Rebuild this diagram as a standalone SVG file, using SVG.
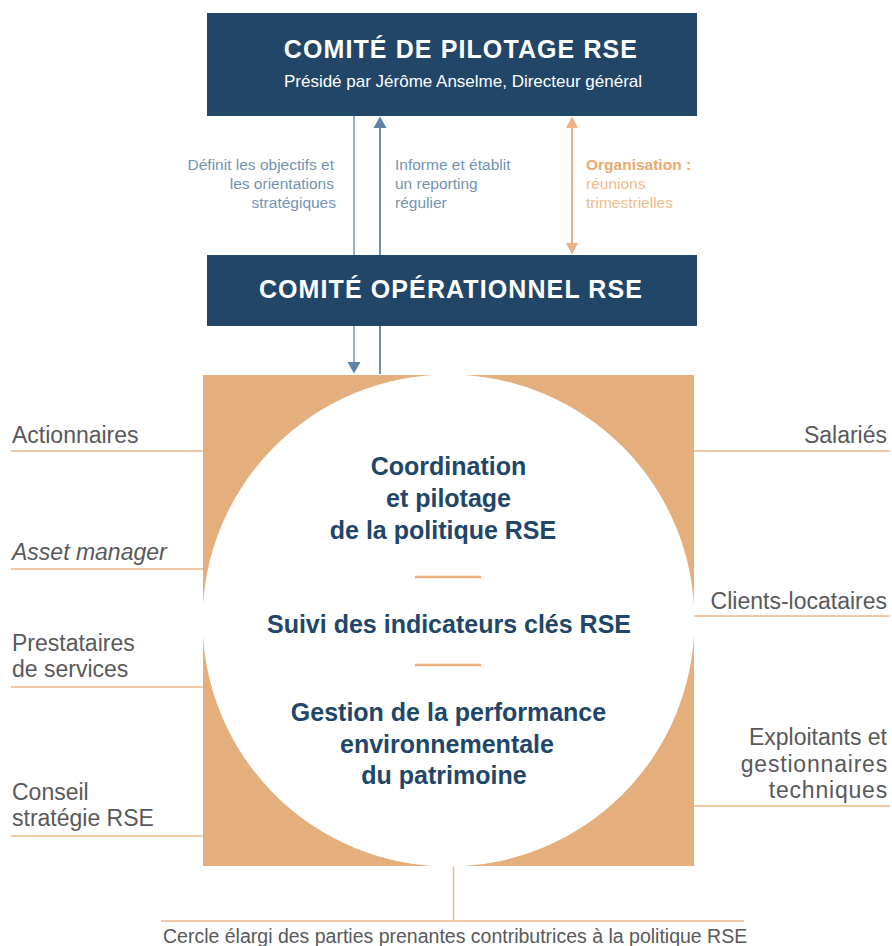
<svg xmlns="http://www.w3.org/2000/svg" width="892" height="946" viewBox="0 0 892 946">
<style>
.box{fill:#214668}
.ttl{font-family:"Liberation Sans",Arial,sans-serif;font-weight:bold;fill:#fff;font-size:25px;letter-spacing:1.1px;text-anchor:middle}
.sub{font-family:"Liberation Sans",Arial,sans-serif;fill:#fff;font-size:17px;text-anchor:middle}
.lbl{font-family:"Liberation Sans",Arial,sans-serif;font-size:15.5px;fill:#7393b3}
.org{font-family:"Liberation Sans",Arial,sans-serif;font-size:15.5px;fill:#efbb8c}
.orgb{font-weight:bold;fill:#e9a971}
.stk{font-family:"Liberation Sans",Arial,sans-serif;font-size:23px;fill:#58595b}
.small{font-size:19.5px}
.ctr{font-family:"Liberation Sans",Arial,sans-serif;font-size:25px;font-weight:bold;fill:#214668;text-anchor:middle}
.ol{stroke:#ebb78b;stroke-width:1.5;fill:none}
.bl1{stroke:#9ab2c9;stroke-width:2;fill:none}
.bl2{stroke:#6a8db0;stroke-width:2;fill:none}
.bhead{fill:#5f83a7}
.ohead{fill:#ebb285}
</style>

<g id="comite-pilotage">
<rect class="box" x="207" y="13" width="490" height="103"/>
<text class="ttl" x="461" y="58">COMITÉ DE PILOTAGE RSE</text>
<text class="sub" x="463" y="87">Présidé par Jérôme Anselme, Directeur général</text>
</g>

<g id="comite-operationnel">
<rect class="box" x="207" y="255" width="490" height="71"/>
<text class="ttl" x="451" y="298">COMITÉ OPÉRATIONNEL RSE</text>
</g>

<g id="connectors">
<line class="bl1" x1="354" y1="116" x2="354" y2="255"/>
<line class="bl1" x1="354" y1="326" x2="354" y2="363"/>
<polygon class="bhead" points="347.5,362 360.5,362 354,373.5"/>
<line class="bl2" x1="380" y1="127" x2="380" y2="255"/>
<polygon class="bhead" points="373.5,128 386.5,128 380,116.5"/>
<line class="bl2" x1="380" y1="326" x2="380" y2="374"/>
<line stroke="#ebb285" stroke-width="2" x1="572" y1="126" x2="572" y2="245"/>
<polygon class="ohead" points="566,128 578,128 572,116.5"/>
<polygon class="ohead" points="566,243 578,243 572,254.5"/>
<line class="ol" x1="453.5" y1="866" x2="453.5" y2="921"/>
<line class="ol" x1="161" y1="921" x2="744" y2="921"/>
</g>

<g id="label-definit">
<text class="lbl" text-anchor="end"><tspan x="334" y="170">Définit les objectifs et</tspan><tspan x="334" y="189">les orientations</tspan><tspan x="336" y="208">stratégiques</tspan></text>
</g>
<g id="label-informe">
<text class="lbl"><tspan x="395" y="170">Informe et établit</tspan><tspan x="395" y="189">un reporting</tspan><tspan x="395" y="208">régulier</tspan></text>
</g>
<g id="label-organisation">
<text class="org"><tspan class="orgb" x="586" y="170">Organisation :</tspan><tspan x="586" y="189">réunions</tspan><tspan x="586" y="208">trimestrielles</tspan></text>
</g>

<g id="cercle">
<rect x="203" y="375" width="491" height="491" fill="#e5af7d"/>
<circle cx="448.5" cy="620.5" r="246" fill="#fff"/>
<text class="ctr"><tspan x="448.5" y="475">Coordination</tspan><tspan x="448.5" y="507">et pilotage</tspan><tspan x="443" y="539">de la politique RSE</tspan></text>
<line stroke="#e8ae7c" stroke-width="2.5" x1="415" y1="577" x2="481" y2="577"/>
<text class="ctr" x="449" y="633">Suivi des indicateurs clés RSE</text>
<line stroke="#e8ae7c" stroke-width="2.5" x1="415" y1="665" x2="481" y2="665"/>
<text class="ctr"><tspan x="448.5" y="721">Gestion de la performance</tspan><tspan x="447" y="753">environnementale</tspan><tspan x="444" y="784">du patrimoine</tspan></text>
</g>

<g id="actionnaires">
<text class="stk" x="12" y="443">Actionnaires</text>
<line class="ol" x1="11" y1="451" x2="203" y2="451"/>
</g>
<g id="asset-manager">
<text class="stk" x="12" y="560" font-style="italic">Asset manager</text>
<line class="ol" x1="11" y1="569" x2="203" y2="569"/>
</g>
<g id="prestataires">
<text class="stk"><tspan x="12" y="651">Prestataires</tspan><tspan x="12" y="677">de services</tspan></text>
<line class="ol" x1="11" y1="687" x2="203" y2="687"/>
</g>
<g id="conseil">
<text class="stk"><tspan x="12" y="800">Conseil</tspan><tspan x="12" y="826">stratégie RSE</tspan></text>
<line class="ol" x1="11" y1="836" x2="203" y2="836"/>
</g>
<g id="salaries">
<text class="stk" x="887" y="443" text-anchor="end">Salariés</text>
<line class="ol" x1="694" y1="451" x2="890" y2="451"/>
</g>
<g id="clients">
<text class="stk" x="887" y="609" text-anchor="end">Clients-locataires</text>
<line class="ol" x1="694" y1="616" x2="890" y2="616"/>
</g>
<g id="exploitants">
<text class="stk" text-anchor="end"><tspan x="887" y="745">Exploitants et</tspan><tspan x="888" y="772" letter-spacing="0.8">gestionnaires</tspan><tspan x="888" y="798" letter-spacing="0.8">techniques</tspan></text>
<line class="ol" x1="694" y1="806" x2="890" y2="806"/>
</g>

<g id="cercle-elargi">
<text class="stk small" x="163" y="943">Cercle élargi des parties prenantes contributrices à la politique RSE</text>
</g>
</svg>
